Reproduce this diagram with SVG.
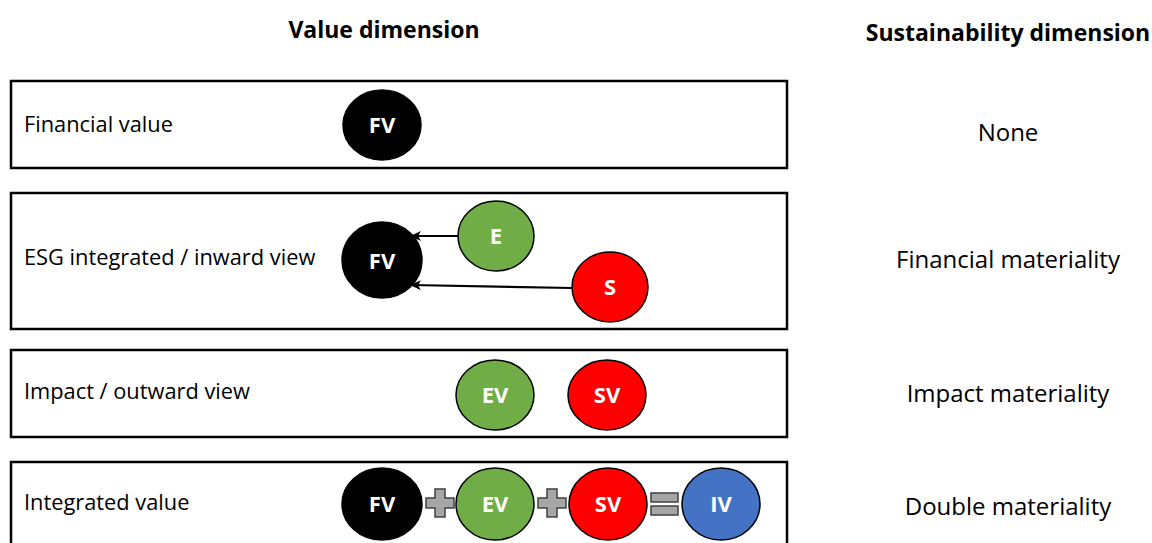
<svg xmlns="http://www.w3.org/2000/svg" width="1152" height="543" viewBox="0 0 1152 543">
<style>
.bg{fill:#fff}
.box{fill:#fff;stroke:#000;stroke-width:2.5}
.hdr{font-family:"Open Sans","Liberation Sans",sans-serif;font-weight:bold;font-size:23px;fill:#000;text-anchor:middle}
.lbl{font-family:"Open Sans","Liberation Sans",sans-serif;font-size:21.8px;fill:#000}
.mat{font-family:"Open Sans","Liberation Sans",sans-serif;font-size:24px;fill:#000;text-anchor:middle}
.c{stroke:#000;stroke-width:1.5}
.ct{font-family:"Open Sans","Liberation Sans",sans-serif;font-weight:bold;font-size:22px;fill:#fff;text-anchor:middle}
.op{fill:#a6a6a6;stroke:#404040;stroke-width:1.5}
.conn{stroke:#000;stroke-width:2.2;fill:none}
</style>
<defs>
<marker id="ah" markerWidth="11" markerHeight="10" refX="10" refY="5" orient="auto" markerUnits="userSpaceOnUse">
<path d="M0,0 L11,5 L0,10 L3,5 Z" fill="#000"/>
</marker>
</defs>
<rect class="bg" x="0" y="0" width="1152" height="543"/>
<text class="hdr" x="384" y="38">Value dimension</text>
<text class="hdr" x="1008" y="41">Sustainability dimension</text>

<g id="row1">
<rect class="box" x="11" y="81" width="776" height="87"/>
<text class="lbl" x="24" y="132">Financial value</text>
<text class="mat" x="1008" y="141">None</text>
</g>
<g id="fv1"><ellipse class="c" cx="382" cy="125" rx="39" ry="35" fill="#000"/><text class="ct" x="382" y="133">FV</text></g>

<g id="row2">
<rect class="box" x="11" y="193" width="776" height="136"/>
<text class="lbl" x="24" y="265">ESG integrated / inward view</text>
<text class="mat" x="1008" y="268">Financial materiality</text>
</g>
<g id="fv2"><ellipse class="c" cx="382" cy="260" rx="40" ry="38" fill="#000"/><text class="ct" x="382" y="269">FV</text></g>
<g id="e"><ellipse class="c" cx="496" cy="236" rx="38" ry="35" fill="#70ad47"/><text class="ct" x="496" y="244">E</text></g>
<g id="s"><ellipse class="c" cx="610" cy="287" rx="38" ry="35" fill="#ff0000"/><text class="ct" x="610" y="295">S</text></g>

<g id="row3">
<rect class="box" x="11" y="350" width="776" height="87"/>
<text class="lbl" x="24" y="399">Impact / outward view</text>
<text class="mat" x="1008" y="402">Impact materiality</text>
</g>
<g id="ev3"><ellipse class="c" cx="495" cy="395" rx="39" ry="35" fill="#70ad47"/><text class="ct" x="495" y="403">EV</text></g>
<g id="sv3"><ellipse class="c" cx="607" cy="395" rx="39" ry="35" fill="#ff0000"/><text class="ct" x="607" y="403">SV</text></g>

<g id="row4">
<rect class="box" x="11" y="462" width="776" height="110"/>
<text class="lbl" x="24" y="510">Integrated value</text>
<text class="mat" x="1008" y="515">Double materiality</text>
</g>
<g id="fv4"><ellipse class="c" cx="382" cy="504" rx="40" ry="36" fill="#000"/><text class="ct" x="382" y="512">FV</text></g>
<g id="plus1"><path class="op" d="M435,489 h10 v9 h9 v10 h-9 v9 h-10 v-9 h-9 v-10 h9 Z"/></g>
<g id="ev4"><ellipse class="c" cx="495" cy="504" rx="39" ry="36" fill="#70ad47"/><text class="ct" x="495" y="512">EV</text></g>
<g id="plus2"><path class="op" d="M547,489 h10 v9 h9 v10 h-9 v9 h-10 v-9 h-9 v-10 h9 Z"/></g>
<g id="sv4"><ellipse class="c" cx="608" cy="504" rx="39" ry="36" fill="#ff0000"/><text class="ct" x="608" y="512">SV</text></g>
<g id="eq"><rect class="op" x="651" y="493" width="27" height="9"/><rect class="op" x="651" y="506" width="27" height="9"/></g>
<g id="iv4"><ellipse class="c" cx="721" cy="504" rx="39" ry="36" fill="#4472c4"/><text class="ct" x="721" y="512">IV</text></g>

<g id="connectors">
<line class="conn" x1="458" y1="236" x2="411" y2="236" marker-end="url(#ah)"/>
<line class="conn" x1="572" y1="288" x2="411" y2="285" marker-end="url(#ah)"/>
</g>
</svg>
